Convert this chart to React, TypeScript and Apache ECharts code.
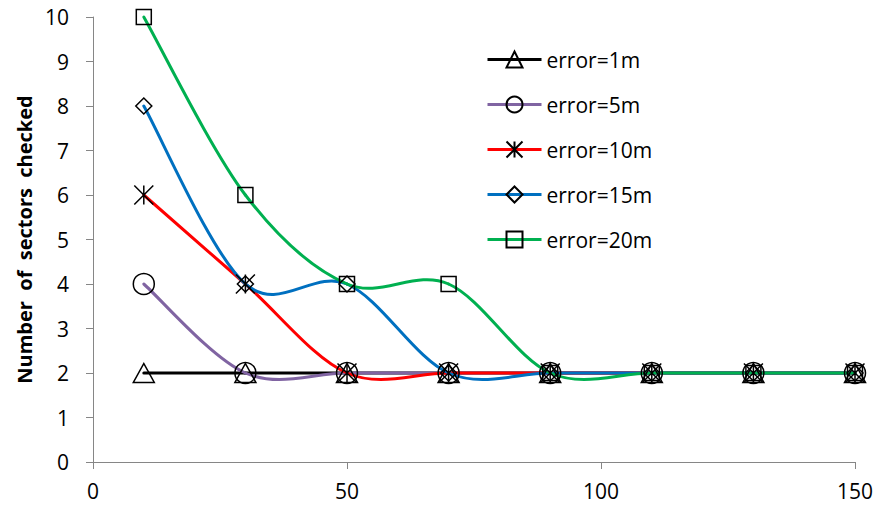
import React, { useEffect, useRef } from "react";
import * as echarts from "echarts";

// Distance values (x) and the number of sectors checked for each error level
const distances = [10, 30, 50, 70, 90, 110, 130, 150];
const error1m = [2, 2, 2, 2, 2, 2, 2, 2];
const error5m = [4, 2, 2, 2, 2, 2, 2, 2];
const error10m = [6, 4, 2, 2, 2, 2, 2, 2];
const error15m = [8, 4, 4, 2, 2, 2, 2, 2];
const error20m = [10, 6, 4, 4, 2, 2, 2, 2];

const seriesNames = ["error=1m", "error=5m", "error=10m", "error=15m", "error=20m"];
const seriesColors = ["#000000", "#8064A2", "#FF0000", "#0070C0", "#00B050"];

const ASTERISK = "path://M0,0L20,20M20,0L0,20M10,0L10,20";
const FONT = "'Open Sans', sans-serif";

function pairs(values: number[]) {
  return distances.map((d, i) => [d, values[i]]);
}

// Smoothed segment (Catmull-Rom style Bezier) between point i and i+1, in pixels
function smoothSegment(api: any, values: number[], i: number) {
  const n = values.length;
  const pt = (k: number) => {
    const j = Math.max(0, Math.min(n - 1, k));
    return api.coord([distances[j], values[j]]);
  };
  const p0 = pt(i - 1);
  const p1 = pt(i);
  const p2 = pt(i + 1);
  const p3 = pt(i + 2);
  return {
    x1: p1[0],
    y1: p1[1],
    cpx1: p1[0] + (p2[0] - p0[0]) / 6,
    cpy1: p1[1] + (p2[1] - p0[1]) / 6,
    cpx2: p2[0] - (p3[0] - p1[0]) / 6,
    cpy2: p2[1] - (p3[1] - p1[1]) / 6,
    x2: p2[0],
    y2: p2[1],
  };
}

export default function App() {
  const ref = useRef<HTMLDivElement>(null);

  useEffect(() => {
    if (!ref.current) return;
    const chart = echarts.init(ref.current, null, { renderer: "svg" });

    const symbolDefs: { symbol: string; size: number | number[] }[] = [
      { symbol: "triangle", size: [21, 19] },
      { symbol: "circle", size: 21 },
      { symbol: ASTERISK, size: 19 },
      { symbol: "diamond", size: [16, 16] },
      { symbol: "rect", size: 15 },
    ];
    const allValues = [error1m, error5m, error10m, error15m, error20m];

    const series: any[] = [];
    allValues.forEach((vals, i) => {
      // smoothed curve through the points
      series.push({
        name: seriesNames[i] + " curve",
        type: "custom",
        data: pairs(vals),
        silent: true,
        renderItem: (params: any, api: any) => {
          const idx = params.dataIndex;
          if (idx >= vals.length - 1) return null;
          return {
            type: "bezierCurve",
            shape: smoothSegment(api, vals, idx),
            style: { stroke: seriesColors[i], lineWidth: 3, fill: "none", lineCap: "round" },
          };
        },
      });
      // markers at each point
      series.push({
        name: seriesNames[i],
        type: "line",
        data: pairs(vals),
        symbol: symbolDefs[i].symbol,
        symbolSize: symbolDefs[i].size,
        showAllSymbol: true,
        lineStyle: { color: seriesColors[i], width: 3, opacity: 0 },
        itemStyle: { color: "none", borderColor: "#000000", borderWidth: 1.5 },
        emphasis: { disabled: true },
      });
    });

    chart.setOption({
      animation: false,
      backgroundColor: "#ffffff",
      textStyle: { fontFamily: FONT },
      grid: { left: 93, right: 24, top: 17, bottom: 46 },
      legend: {
        orient: "vertical",
        left: 481,
        top: 44,
        itemWidth: 54,
        itemHeight: 20,
        itemGap: 24,
        textStyle: { fontFamily: FONT, fontSize: 21, color: "#000", lineHeight: 20 },
        data: seriesNames.map((name, i) => ({
          name,
          lineStyle: { color: seriesColors[i], width: 3, opacity: 1 },
        })),
      },
      xAxis: {
        type: "value",
        min: 0,
        max: 150,
        interval: 50,
        splitLine: { show: false },
        axisLine: { lineStyle: { color: "#868686", width: 1 } },
        axisTick: { show: true, length: 7, lineStyle: { color: "#868686" } },
        axisLabel: { color: "#000", fontSize: 21, fontFamily: FONT, margin: 18 },
      },
      yAxis: {
        type: "value",
        min: 0,
        max: 10,
        interval: 1,
        name: "Number  of  sectors  checked",
        nameLocation: "middle",
        nameRotate: 90,
        nameGap: 59,
        nameTextStyle: { fontFamily: FONT, fontSize: 20, fontWeight: "bold", color: "#000" },
        splitLine: { show: false },
        axisLine: { show: true, lineStyle: { color: "#868686", width: 1 } },
        axisTick: { show: true, length: 7, lineStyle: { color: "#868686" } },
        axisLabel: { color: "#000", fontSize: 21, fontFamily: FONT, margin: 24 },
      },
      series,
    });

    return () => chart.dispose();
  }, []);

  return (
    <div
      ref={ref}
      style={{ position: "absolute", left: 0, top: 0, width: 879, height: 508 }}
    />
  );
}
